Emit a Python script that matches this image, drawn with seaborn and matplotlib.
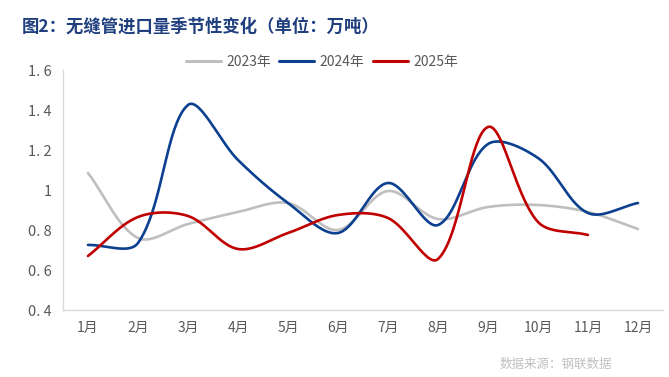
import numpy as np
import pandas as pd
import matplotlib
matplotlib.use("Agg")
import matplotlib.pyplot as plt
import seaborn as sns

months = ["1月", "2月", "3月", "4月", "5月", "6月", "7月", "8月", "9月", "10月", "11月", "12月"]
y2023 = [1.085, 0.76, 0.83, 0.89, 0.935, 0.80, 0.995, 0.855, 0.915, 0.925, 0.89, 0.805]
y2024 = [0.725, 0.735, 1.425, 1.15, 0.935, 0.785, 1.035, 0.825, 1.23, 1.16, 0.885, 0.935]
y2025 = [0.67, 0.865, 0.87, 0.705, 0.785, 0.875, 0.86, 0.655, 1.315, 0.84, 0.775]
yticks = [0.4, 0.6, 0.8, 1.0, 1.2, 1.4, 1.6]
ytick_labels = ["0. 4", "0. 6", "0. 8", "1", "1. 2", "1. 4", "1. 6"]

series = [("2023年", y2023, "#bfbfbf"), ("2024年", y2024, "#0b3f8f"), ("2025年", y2025, "#c00000")]

YSCALE = 4.0  # y unit is ~4x the x unit on screen


def smooth(vals, n=40):
    # Excel-like smoothed line: bezier with length-weighted control points
    p = np.column_stack([np.arange(len(vals), dtype=float), np.asarray(vals, dtype=float) * YSCALE])
    m = len(p)
    segs = []
    for i in range(m - 1):
        a, b = p[i], p[i + 1]
        prev = p[i - 1] if i > 0 else a
        nxt = p[i + 2] if i + 2 < m else b
        d_ab = np.linalg.norm(b - a)
        d_pa = np.linalg.norm(a - prev)
        d_bn = np.linalg.norm(nxt - b)
        if i > 0:
            c1 = a + (b - prev) * d_ab / (d_pa + d_ab) / 3
        else:
            c1 = a + (b - a) / 3
        if i + 2 < m:
            c2 = b - (nxt - a) * d_ab / (d_ab + d_bn) / 3
        else:
            c2 = b - (b - a) / 3
        t = np.linspace(0, 1, n, endpoint=(i == m - 2))[:, None]
        pts = (1 - t) ** 3 * a + 3 * (1 - t) ** 2 * t * c1 + 3 * (1 - t) * t ** 2 * c2 + t ** 3 * b
        segs.append(pts)
    pts = np.vstack(segs)
    return pts[:, 0], pts[:, 1] / YSCALE


sns.set_style("white")
plt.rcParams["font.family"] = ["Noto Sans CJK SC", "DejaVu Sans"]

fig = plt.figure(figsize=(6.69, 3.77), dpi=100)
ax = fig.add_axes([63 / 669, 1 - 310 / 377, 600 / 669, 240 / 377])

frames = []
for name, vals, color in series:
    sx, sy = smooth(vals)
    frames.append(pd.DataFrame({"x": sx, "y": sy, "year": name}))
df = pd.concat(frames)
palette = {name: color for name, _, color in series}
sns.lineplot(data=df, x="x", y="y", hue="year", palette=palette, sort=False,
             linewidth=1.9, ax=ax, legend=False)

for name, _, color in series:
    ax.plot([], [], color=color, linewidth=2.2, label=name)

ax.set_xlim(-0.5, 11.5)
ax.set_ylim(0.4, 1.6)
ax.set_xticks(range(12))
ax.set_xticklabels(months)
ax.set_xticks(np.arange(0.5, 11.5, 1), minor=True)
ax.set_yticks(yticks)
ax.set_yticklabels(ytick_labels)
ax.set_xlabel("")
ax.set_ylabel("")

for s in ["top", "right"]:
    ax.spines[s].set_visible(False)
for s in ["left", "bottom"]:
    ax.spines[s].set_color("#d9d9d9")
    ax.spines[s].set_linewidth(1.0)
ax.tick_params(axis="x", which="major", length=0, pad=8, labelsize=10, labelcolor="#595959")
ax.tick_params(axis="x", which="minor", length=5, color="#d9d9d9", direction="out")
ax.tick_params(axis="y", length=4, color="#d9d9d9", direction="out", pad=4,
               labelsize=10.5, labelcolor="#595959")

leg = fig.legend(loc="center", bbox_to_anchor=(322 / 669, 1 - 62 / 377), ncol=3,
                 frameon=False, fontsize=10, handlelength=2.5, handletextpad=0.4,
                 columnspacing=0.6)
for t in leg.get_texts():
    t.set_color("#595959")

fig.text(22 / 669, 1 - 27 / 377, "图2：无缝管进口量季节性变化（单位：万吨）",
         fontsize=12.5, fontweight="bold", color="#1f3f7f", va="center", ha="left")
fig.text(612 / 669, 1 - 364 / 377, "数据来源：钢联数据", fontsize=9,
         color="#c0c0c0", va="center", ha="right")

fig.savefig("out.png", dpi=100)
plt.close(fig)
